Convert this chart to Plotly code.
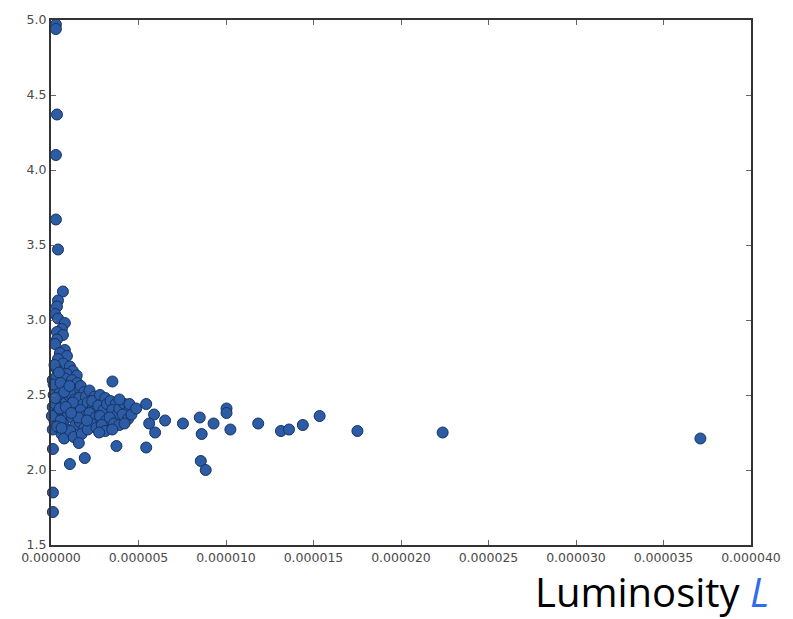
import plotly.graph_objects as go

# Luminosity values (in units of 1e-6) and second quantity
lum_e6 = [
    0.28, 0.28, 0.34, 0.28, 0.28, 0.40, 0.68,
    0.40, 0.34, 0.23, 0.40, 0.79, 0.62, 0.34, 0.68, 0.34, 0.23, 0.79, 0.51, 0.91,
    0.40, 0.68, 1.08, 1.25, 0.34, 0.91, 1.47,
    0.10, 0.30, 0.15, 0.40, 0.10, 0.35, 0.20, 0.45, 0.10, 0.30, 0.50, 0.25, 0.05,
    0.70, 0.90, 0.60, 0.85, 0.65, 0.95, 0.70, 0.90, 0.60, 0.80, 1.00, 0.75,
    1.20, 1.40, 1.10, 1.35, 1.15, 1.45, 1.20, 1.40, 1.10, 1.30, 1.50,
    1.70, 1.90, 1.60, 1.85, 1.70, 1.95, 1.65, 1.90, 1.75, 2.00,
    2.20, 2.50, 2.10, 2.40, 2.20, 2.55, 2.30, 2.10, 2.60, 2.35,
    2.80, 3.10, 2.70, 3.00, 2.80, 3.15, 2.90, 3.10, 2.75, 3.20,
    3.40, 3.70, 3.50, 3.80, 3.35, 3.60, 3.90, 3.50, 3.90,
    4.20, 4.50, 4.10, 4.40, 4.20, 4.60, 3.91, 4.48, 4.87,
    0.20, 0.45, 0.15, 0.55, 0.25, 0.50, 0.75, 1.05, 0.55, 1.25, 0.85, 1.55, 0.35, 0.60, 1.15, 2.05,
    3.51, 5.44, 5.89, 5.61, 6.52, 5.95, 5.44, 3.74, 7.54, 8.50, 9.29, 8.61,
    10.03, 10.03, 10.25, 11.84, 13.14, 13.60, 14.39, 15.35, 17.51, 22.38, 37.11,
    8.56, 8.84, 1.59, 1.93, 1.08, 0.11, 0.11, 0.11,
]
y_vals = [
    4.97, 4.94, 4.37, 4.10, 3.67, 3.47, 3.19,
    3.13, 3.09, 3.04, 3.01, 2.98, 2.94, 2.92, 2.90, 2.87, 2.84, 2.80, 2.78, 2.76,
    2.74, 2.71, 2.69, 2.66, 2.67, 2.64, 2.63,
    2.60, 2.55, 2.50, 2.46, 2.42, 2.38, 2.33, 2.30, 2.27, 2.62, 2.52, 2.44, 2.36,
    2.58, 2.54, 2.49, 2.45, 2.40, 2.36, 2.31, 2.27, 2.24, 2.61, 2.50, 2.21,
    2.60, 2.55, 2.51, 2.47, 2.43, 2.39, 2.35, 2.30, 2.26, 2.22, 2.58,
    2.56, 2.52, 2.48, 2.44, 2.40, 2.36, 2.32, 2.28, 2.24, 2.49,
    2.53, 2.49, 2.45, 2.42, 2.38, 2.35, 2.31, 2.27, 2.28, 2.46,
    2.50, 2.48, 2.43, 2.40, 2.36, 2.33, 2.30, 2.26, 2.25, 2.44,
    2.46, 2.44, 2.40, 2.37, 2.35, 2.31, 2.30, 2.27, 2.41,
    2.44, 2.41, 2.37, 2.34, 2.31, 2.37, 2.47, 2.44, 2.41,
    2.70, 2.65, 2.57, 2.58, 2.48, 2.41, 2.52, 2.56, 2.33, 2.45, 2.42, 2.35, 2.29, 2.28, 2.38, 2.33,
    2.59, 2.44, 2.37, 2.31, 2.33, 2.25, 2.15, 2.16, 2.31, 2.35, 2.31, 2.24,
    2.41, 2.38, 2.27, 2.31, 2.26, 2.27, 2.30, 2.36, 2.26, 2.25, 2.21,
    2.06, 2.00, 2.18, 2.08, 2.04, 2.14, 1.85, 1.72,
]
x_vals = [v * 1e-6 for v in lum_e6]

x_ticks = [0, 0.000005, 0.00001, 0.000015, 0.00002, 0.000025, 0.00003, 0.000035, 0.00004]
y_ticks = [1.5, 2.0, 2.5, 3.0, 3.5, 4.0, 4.5, 5.0]

fig = go.Figure()
fig.add_trace(go.Scatter(
    x=x_vals, y=y_vals, mode="markers",
    marker=dict(size=11, color="#2c5ca6", line=dict(color="#17325f", width=1)),
    showlegend=False, cliponaxis=False,
))

axis_common = dict(
    showgrid=False, zeroline=False, showline=True, mirror="ticks",
    linecolor="#333333", linewidth=2, ticks="inside", ticklen=5,
    tickcolor="#666666", tickwidth=1,
    tickfont=dict(family="DejaVu Sans", size=12.5, color="#4a4a4a"),
)
fig.update_xaxes(range=[0, 0.00004], tickvals=x_ticks, tickformat=".6f", **axis_common)
fig.update_yaxes(range=[1.5, 5.0], tickvals=y_ticks, tickformat=".1f", **axis_common)

fig.add_annotation(
    xref="paper", yref="paper", x=1.028, y=-0.0895,
    xanchor="right", yanchor="middle", showarrow=False,
    text="Luminosity <i><span style='color:#2f6cf0'>L</span></i>",
    font=dict(family="Open Sans", size=40, color="#000000"),
)

fig.update_layout(
    width=793, height=619,
    margin=dict(l=51, r=36, t=16, b=74),
    paper_bgcolor="white", plot_bgcolor="white",
)

fig.write_html("out.html")
